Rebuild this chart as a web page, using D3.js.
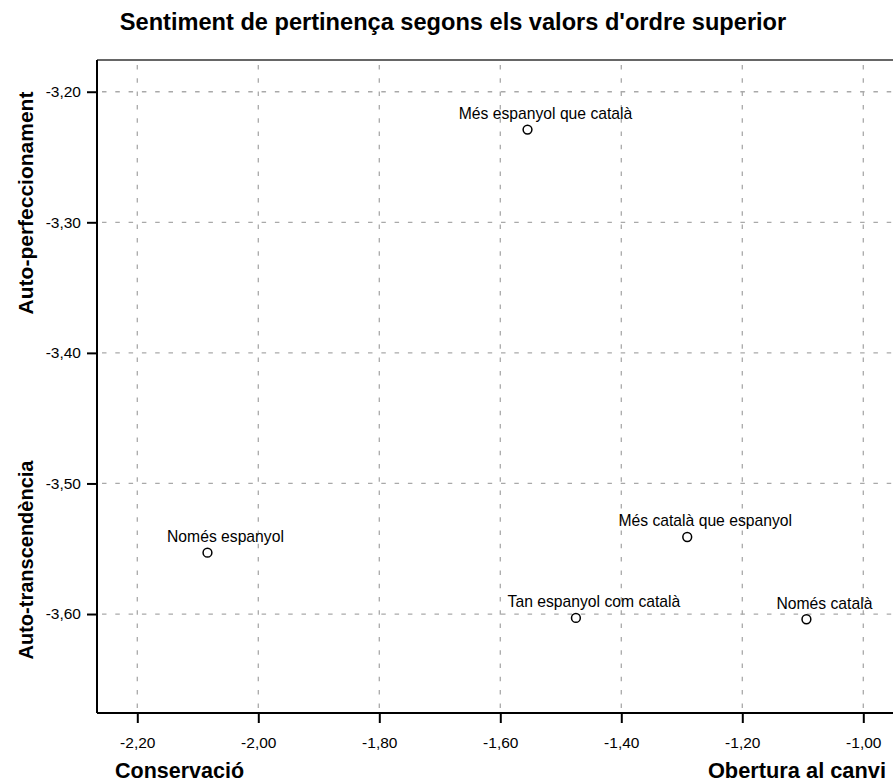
<!DOCTYPE html>
<html>
<head>
<meta charset="utf-8">
<script src="https://cdn.jsdelivr.net/npm/d3@7"></script>
<style>
  html, body { margin: 0; padding: 0; background: #fff; }
  svg { display: block; font-family: "Liberation Sans", Arial, sans-serif; }
</style>
</head>
<body>
<svg id="chart" width="893" height="783"></svg>
<script>
// Group labels and their mean scores on the two higher-order value dimensions
const groups = [
  "Més espanyol que català",
  "Només espanyol",
  "Més català que espanyol",
  "Tan espanyol com català",
  "Només català"
];
const conservacioObertura = [-1.555, -2.084, -1.291, -1.475, -1.094];
const autoPerfTransc = [-3.229, -3.553, -3.541, -3.603, -3.604];

// Axis ticks and extents
const xTicks = [-2.2, -2.0, -1.8, -1.6, -1.4, -1.2, -1.0];
const yTicks = [-3.2, -3.3, -3.4, -3.5, -3.6];
const xExtent = [-2.2666, -0.9509];
const yExtent = [-3.6758, -3.1757];

const chartTitle = "Sentiment de pertinença segons els valors d'ordre superior";
const xTitleLeft = "Conservació";
const xTitleRight = "Obertura al canvi";
const yTitleTop = "Auto-perfeccionament";
const yTitleBottom = "Auto-transcendència";

const svg = d3.select("#chart");
const plotLeft = 97, plotRight = 893, plotTop = 60, plotBottom = 713;

const x = d3.scaleLinear().domain(xExtent).range([plotLeft, plotRight]);
const y = d3.scaleLinear().domain(yExtent).range([plotBottom, plotTop]);

const loc = d3.formatLocale({ decimal: ",", thousands: ".", grouping: [3], currency: ["", "€"], minus: "-" });
const fmt = loc.format(".2f");

svg.append("rect").attr("width", 893).attr("height", 783).attr("fill", "#fff");

// Dashed grid
const gridStyle = g => g.attr("stroke", "#a9a9a9").attr("stroke-width", 1.3)
  .attr("stroke-dasharray", "4.5,8.8");
svg.append("g").selectAll("line").data(xTicks).join("line")
  .attr("x1", d => x(d)).attr("x2", d => x(d))
  .attr("y1", plotTop + 5).attr("y2", plotBottom)
  .call(gridStyle);
svg.append("g").selectAll("line").data(yTicks).join("line")
  .attr("y1", d => y(d)).attr("y2", d => y(d))
  .attr("x1", plotLeft + 5).attr("x2", plotRight)
  .call(gridStyle);

// Top frame edge
svg.append("line").attr("x1", plotLeft).attr("x2", plotRight + 10)
  .attr("y1", plotTop).attr("y2", plotTop)
  .attr("stroke", "#333").attr("stroke-width", 1.5);

// Axes
const xAxis = svg.append("g").attr("transform", `translate(0,${plotBottom})`)
  .call(d3.axisBottom(x).tickValues(xTicks).tickFormat(fmt).tickSize(10).tickPadding(10));
const yAxis = svg.append("g").attr("transform", `translate(${plotLeft},0)`)
  .call(d3.axisLeft(y).tickValues(yTicks).tickFormat(fmt).tickSize(10).tickPadding(6));

[xAxis, yAxis].forEach(a => {
  a.select(".domain").attr("stroke", "#000").attr("stroke-width", 2);
  a.selectAll(".tick line").attr("stroke", "#000").attr("stroke-width", 2);
  a.selectAll(".tick text").attr("fill", "#000").style("font-size", "15.5px")
    .style("font-family", "'Liberation Sans', Arial, sans-serif");
});
xAxis.select(".domain").attr("d", `M${plotLeft},0H${plotRight + 10}`);
yAxis.select(".domain").attr("d", `M0,${plotTop}V${plotBottom}`);
xAxis.selectAll(".tick text").attr("dy", null).attr("y", 35);

// Points and labels
const pts = groups.map((g, i) => ({ label: g, cx: conservacioObertura[i], cy: autoPerfTransc[i] }));
const pg = svg.append("g");
pg.selectAll("circle").data(pts).join("circle")
  .attr("cx", d => x(d.cx)).attr("cy", d => y(d.cy)).attr("r", 4.4)
  .attr("fill", "#fff").attr("stroke", "#000").attr("stroke-width", 1.5);
pg.selectAll("text").data(pts).join("text")
  .attr("x", d => x(d.cx) + 18).attr("y", d => y(d.cy) - 10.5)
  .attr("text-anchor", "middle").style("font-size", "15.7px").attr("fill", "#000")
  .text(d => d.label);

// Titles
svg.append("text").attr("x", 453).attr("y", 30).attr("text-anchor", "middle")
  .style("font-size", "23.6px").style("font-weight", "bold").text(chartTitle);
svg.append("text").attr("x", 115).attr("y", 778).attr("text-anchor", "start")
  .style("font-size", "21.5px").style("font-weight", "bold").text(xTitleLeft);
svg.append("text").attr("x", 886).attr("y", 778).attr("text-anchor", "end")
  .style("font-size", "21.8px").style("font-weight", "bold").text(xTitleRight);
svg.append("text").attr("transform", "translate(33,203) rotate(-90)")
  .attr("text-anchor", "middle").style("font-size", "21px").style("font-weight", "bold").text(yTitleTop);
svg.append("text").attr("transform", "translate(33,560) rotate(-90)")
  .attr("text-anchor", "middle").style("font-size", "20px").style("font-weight", "bold").text(yTitleBottom);
</script>
</body>
</html>
